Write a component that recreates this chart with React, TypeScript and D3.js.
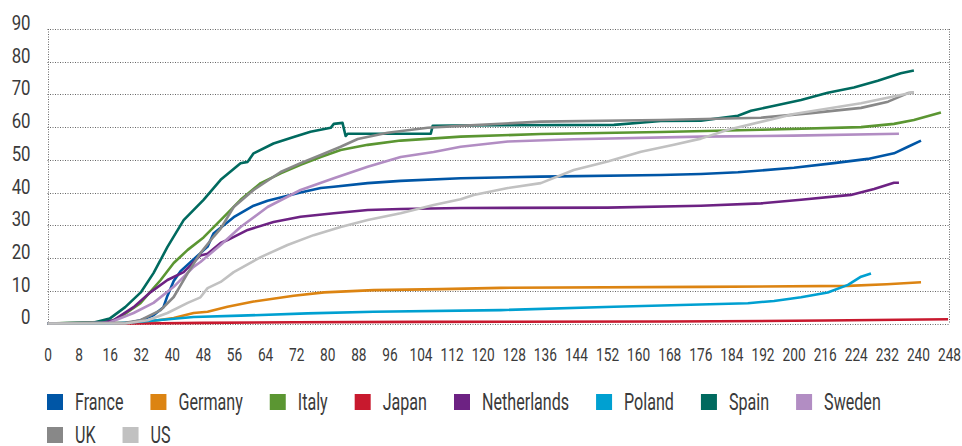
import { useEffect, useRef } from "react";
import * as d3 from "d3";

// axis labels (x labels are evenly spaced categories, 24 and 208 are not shown)
const X_LABELS = ["0", "8", "16", "32", "40", "48", "56", "64", "72", "80", "88", "96", "104", "112", "120", "128", "136", "144", "152", "160", "168", "176", "184", "192", "200", "216", "224", "232", "240", "248"];
const Y_TICKS = [0, 10, 20, 30, 40, 50, 60, 70, 80, 90];

// series: [position on the x axis (label index), value]
const france: [number, number][] = [[0, 0], [2.5, 0], [3.0, 1], [3.41, 2.5], [3.73, 5], [3.86, 8.5], [4.06, 13], [4.28, 16], [4.92, 21.5], [5.15, 23.5], [5.34, 27.5], [5.99, 32.5], [6.63, 36], [7.08, 37.5], [7.27, 38], [8.14, 40], [8.79, 41.4], [9.21, 41.8], [10.3, 42.9], [11.36, 43.6], [13.29, 44.4], [15.87, 44.9], [19.73, 45.4], [21.02, 45.7], [22.21, 46.2], [24.01, 47.6], [25.3, 49], [26.39, 50.3], [27.23, 52], [27.68, 54], [28.1, 55.9]];
const germany: [number, number][] = [[0, 0], [2.99, 0.25], [4.06, 1.7], [4.7, 3.2], [5.15, 3.6], [5.79, 5.1], [6.63, 6.7], [7.92, 8.5], [8.9, 9.5], [10.49, 10.2], [12.65, 10.5], [14.58, 10.9], [21.02, 11.2], [25.75, 11.5], [27.0, 12], [28.1, 12.6]];
const italy: [number, number][] = [[0, 0], [2.0, 0.5], [2.35, 2], [2.99, 6.2], [3.64, 13.3], [4.06, 18.5], [4.51, 22.5], [5.02, 26.3], [5.57, 31.6], [6.21, 37.8], [6.86, 42.9], [7.5, 45.9], [8.14, 48.5], [8.79, 50.9], [9.43, 53], [10.3, 54.6], [11.36, 55.9], [13.29, 57.1], [15.87, 57.9], [19.73, 58.5], [22.95, 59.2], [26.17, 60], [27.23, 61], [27.87, 62.2], [28.74, 64.5]];
const japan: [number, number][] = [[0, 0], [3, 0], [5, 0.2], [8, 0.4], [12, 0.5], [20, 0.6], [25, 0.9], [28.97, 1.3]];
const netherlands: [number, number][] = [[0, 0], [1.5, 0], [2.12, 1], [2.77, 5], [3.32, 9.6], [3.86, 13.3], [4.38, 15.7], [4.92, 20.8], [5.15, 21.3], [5.57, 24.6], [5.79, 25.5], [6.44, 28.6], [7.27, 31], [8.14, 32.6], [9.21, 33.7], [10.3, 34.7], [11.36, 35], [13.29, 35.3], [18.02, 35.4], [21.02, 36], [22.95, 36.7], [24.24, 37.8], [25.84, 39.3], [26.59, 41.1], [27.23, 43], [27.39, 43]];
const poland: [number, number][] = [[0, 0], [2.0, 0], [2.99, 0.55], [4.7, 2], [6.21, 2.4], [8.36, 3.1], [10.49, 3.6], [14.58, 4.1], [18.22, 5.1], [22.53, 6.2], [23.37, 6.9], [24.24, 8], [25.1, 9.5], [25.75, 11.8], [26.17, 14.3], [26.49, 15.3]];
const spain: [number, number][] = [[0, 0], [1.5, 0.3], [2.0, 1.5], [2.5, 5], [3.0, 9.5], [3.41, 15.4], [3.86, 23.4], [4.38, 31.6], [5.02, 37.8], [5.57, 43.9], [6.21, 49], [6.44, 49.4], [6.63, 52], [7.27, 55], [7.92, 57], [8.46, 58.6], [9.11, 59.8], [9.21, 61], [9.49, 61.3], [9.59, 57.3], [9.66, 58], [12.33, 58], [12.39, 60.4], [13.0, 60.5], [18.22, 60.7], [19.73, 61.9], [21.02, 62], [22.21, 63.5], [22.63, 65], [23.27, 66.3], [24.24, 68.3], [25.1, 70.5], [25.94, 72.1], [26.71, 74.2], [27.45, 76.5], [27.87, 77.3]];
const sweden: [number, number][] = [[0, 0], [2.0, 0.3], [2.77, 3.2], [3.41, 6.3], [4.06, 11.2], [4.7, 17.3], [4.92, 18.8], [5.57, 24], [6.21, 29.5], [7.08, 35.6], [8.14, 40.8], [9.21, 44.4], [10.3, 47.9], [11.36, 50.9], [12.42, 52.4], [13.29, 54], [14.81, 55.6], [16.93, 56.3], [21.02, 57.1], [24, 57.4], [27.39, 58]];
const uk: [number, number][] = [[0, 0], [2.5, 0.2], [2.99, 1], [3.64, 4.1], [4.06, 8.1], [4.51, 15.4], [4.92, 21.5], [5.34, 26.5], [5.57, 29], [5.99, 35.6], [6.63, 40.8], [7.5, 46.3], [8.14, 49], [8.79, 51.5], [9.43, 54], [9.98, 56.4], [10.94, 58.3], [12.23, 59.8], [13.29, 60.4], [15.87, 61.7], [19.73, 62.2], [22.95, 62.9], [24.56, 64.3], [26.17, 65.9], [27.04, 67.8], [27.68, 70.4], [27.87, 70.6]];
const us: [number, number][] = [[0, 0], [2.5, 0], [3.22, 1], [3.86, 3.2], [4.51, 6.3], [4.92, 8], [5.15, 10.8], [5.57, 12.7], [5.99, 15.7], [6.86, 20.3], [7.72, 24], [8.56, 27], [9.43, 29.5], [10.3, 31.6], [11.36, 33.7], [12.42, 36.2], [13.29, 38], [13.71, 39.3], [14.81, 41.4], [15.87, 42.9], [16.93, 46.9], [18.02, 49.5], [19.09, 52.5], [20.15, 54.6], [21.02, 56.5], [21.89, 59.2], [24.01, 64], [26.17, 67.3], [27.87, 70.7]];

const SERIES = [
  { name: "France", color: "#0056a6", data: france },
  { name: "Germany", color: "#dc8412", data: germany },
  { name: "Italy", color: "#5b9632", data: italy },
  { name: "Japan", color: "#c8192e", data: japan },
  { name: "Netherlands", color: "#6d2283", data: netherlands },
  { name: "Poland", color: "#00a0d1", data: poland },
  { name: "Spain", color: "#006a5f", data: spain },
  { name: "Sweden", color: "#b28dc3", data: sweden },
  { name: "UK", color: "#888888", data: uk },
  { name: "US", color: "#c1c1c1", data: us },
];

// no condensed font installed: squeeze Roboto horizontally
const FONT = "Roboto, sans-serif";
const TEXT_COLOR = "#3a3a3a";

export default function App() {
  const ref = useRef<SVGSVGElement>(null);

  useEffect(() => {
    if (!ref.current) return;
    const svg = d3.select(ref.current);
    svg.selectAll("*").remove();

    const W = 962;
    const H = 446;
    const m = { left: 47.5, right: 949, top: 29, bottom: 323.5 };

    const x = d3.scaleLinear().domain([0, X_LABELS.length - 1]).range([m.left, m.right]);
    const y = d3.scaleLinear().domain([0, 90]).range([m.bottom, m.top]);

    svg.attr("width", W).attr("height", H).attr("viewBox", `0 0 ${W} ${H}`);

    // Grid
    svg.append("g")
      .selectAll("line")
      .data(Y_TICKS)
      .join("line")
      .attr("x1", m.left)
      .attr("x2", m.right)
      .attr("y1", (d) => Math.round(y(d)) + 0.5)
      .attr("y2", (d) => Math.round(y(d)) + 0.5)
      .attr("stroke", "#666")
      .attr("stroke-width", 1)
      .attr("stroke-dasharray", "1,1.5");

    svg.append("g")
      .selectAll("line")
      .data([m.left, m.right])
      .join("line")
      .attr("x1", (d) => Math.round(d) + 0.5)
      .attr("x2", (d) => Math.round(d) + 0.5)
      .attr("y1", m.top)
      .attr("y2", m.bottom)
      .attr("stroke", "#666")
      .attr("stroke-width", 1)
      .attr("stroke-dasharray", "1,1.5");

    // Y axis labels
    svg.append("g")
      .attr("transform", `translate(${m.left - 17},0)`)
      .call(d3.axisLeft(y).tickValues(Y_TICKS).tickSize(0).tickPadding(0))
      .call((a) => {
        a.select(".domain").remove();
        a.selectAll("text")
          .attr("font-family", FONT)
          .attr("font-size", 21)
          .attr("fill", TEXT_COLOR)
          .attr("dy", "0.02em")
          .attr("transform", "scale(0.8,1)");
      });

    // X axis labels
    svg.append("g")
      .attr("transform", `translate(0,${m.bottom + 25})`)
      .call(
        d3
          .axisBottom(x)
          .tickValues(d3.range(X_LABELS.length))
          .tickFormat((i) => X_LABELS[i as number])
          .tickSize(0)
          .tickPadding(0),
      )
      .call((a) => {
        a.select(".domain").remove();
        a.selectAll("text")
          .attr("font-family", FONT)
          .attr("font-size", 18)
          .attr("fill", TEXT_COLOR)
          .attr("transform", "scale(0.76,1)");
      });

    // Lines
    const line = d3
      .line<[number, number]>()
      .x((d) => x(d[0]))
      .y((d) => y(d[1]));

    svg.append("g")
      .selectAll("path")
      .data(SERIES)
      .join("path")
      .attr("d", (s) => line(s.data))
      .attr("fill", "none")
      .attr("stroke", (s) => s.color)
      .attr("stroke-width", 2.6)
      .attr("stroke-linejoin", "round");

    // Legend (flow layout)
    const sx = 0.7;
    const legend = svg.append("g");
    let lx = 47;
    let ly = 402;
    SERIES.forEach((s) => {
      const item = legend.append("g");
      item.append("rect")
        .attr("width", 16)
        .attr("height", 16)
        .attr("y", -8)
        .attr("fill", s.color);
      const t = item.append("text")
        .attr("transform", `translate(28,0) scale(${sx},1)`)
        .attr("dy", "0.36em")
        .attr("font-family", FONT)
        .attr("font-size", 23)
        .attr("fill", TEXT_COLOR)
        .text(s.name);
      const w = (t.node() as SVGTextElement).getComputedTextLength() * sx;
      if (lx + 28 + w > 945) {
        lx = 47;
        ly += 33;
      }
      item.attr("transform", `translate(${lx},${ly})`);
      lx += 28 + w + 27;
    });
  }, []);

  return (
    <div style={{ position: "absolute", left: 0, top: 0 }}>
      <svg ref={ref} style={{ display: "block" }} />
    </div>
  );
}
